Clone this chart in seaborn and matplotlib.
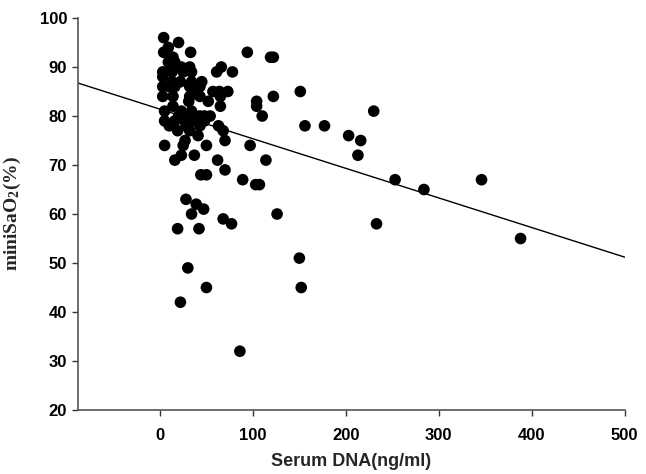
import seaborn as sns
import pandas as pd
import matplotlib.pyplot as plt
import numpy as np

# values
dna = [4, 20, 9, 4, 33, 14, 9, 16, 23, 13, 32, 3, 13, 25, 34, 3, 13, 22, 34, 45,
       3, 10, 16, 32, 43, 39,
       66, 61, 78, 57, 64, 73,
       3, 14, 32, 43, 31, 52, 5, 14, 23, 34, 43, 48, 65, 65,
       5, 16, 27, 35, 19, 32, 43, 48, 54, 63, 68, 70, 41, 25, 10, 28, 38, 20,
       5, 27, 25, 50, 97, 16, 23, 37, 62, 70, 44, 50, 114,
       89, 103, 107, 28, 39, 47, 34, 68, 77, 19, 42, 126, 233,
       30, 50, 22, 86, 150, 152,
       94, 119, 122, 151, 122, 104, 104, 110, 230, 156, 177, 203, 216, 213, 253, 284, 346, 388]
sao2 = [96, 95, 94, 93, 93, 92, 91, 91, 90, 90, 90, 89, 89, 89, 89, 88, 87, 87, 87, 87,
        86, 86, 86, 86, 86, 85,
        90, 89, 89, 85, 85, 85,
        84, 84, 84, 84, 83, 83, 81, 82, 81, 81, 80, 80, 84, 82,
        79, 79, 79, 79, 77, 77, 78, 79, 80, 78, 77, 75, 76, 80, 78, 78, 80, 80,
        74, 75, 74, 74, 74, 71, 72, 72, 71, 69, 68, 68, 71,
        67, 66, 66, 63, 62, 61, 60, 59, 58, 57, 57, 60, 58,
        49, 45, 42, 32, 51, 45,
        93, 92, 92, 85, 84, 83, 82, 80, 81, 78, 78, 76, 75, 72, 67, 65, 67, 55]

# fitted line
intercept = 81.4
slope = -0.0604

xlim = (-88, 500)
xticks = [0, 100, 200, 300, 400, 500]
yticks = [20, 30, 40, 50, 60, 70, 80, 90, 100]

df = pd.DataFrame({"dna": dna, "sao2": sao2})
fit = pd.DataFrame({"dna": list(xlim)})
fit["sao2"] = intercept + slope * fit["dna"]

sns.set_style("ticks")
plt.rcParams["font.family"] = "Liberation Sans"
plt.rcParams["font.weight"] = "bold"
plt.rcParams["mathtext.fontset"] = "custom"
plt.rcParams["mathtext.rm"] = "Liberation Serif:bold"
plt.rcParams["mathtext.it"] = "Liberation Serif:bold"
plt.rcParams["mathtext.default"] = "rm"

fig = plt.figure(figsize=(6.46, 4.74), dpi=100)
ax = fig.add_axes([0.121, 0.135, 0.846, 0.827])

sns.lineplot(x="dna", y="sao2", data=fit, color="black", lw=1.0, ax=ax)
sns.scatterplot(x="dna", y="sao2", data=df, color="black", s=70, edgecolor="none", ax=ax, zorder=3)

ax.set_xlim(*xlim)
ax.set_ylim(20, 100)
ax.set_xticks(xticks)
ax.set_xticklabels([str(t) for t in xticks], family="Liberation Sans", fontweight="bold", fontsize=12)
ax.set_yticks(yticks)
ax.set_yticklabels([str(t) for t in yticks], family="Liberation Sans", fontweight="bold", fontsize=12)
ax.tick_params(direction="out", length=4, width=1, colors="#333333", labelcolor="black")
ax.tick_params(axis="x", pad=9)
ax.tick_params(axis="y", pad=4)
for s in ["left", "bottom"]:
    ax.spines[s].set_color("#555555")
    ax.spines[s].set_linewidth(1.2)
sns.despine(ax=ax)

ax.set_xlabel("Serum DNA(ng/ml)", family="Liberation Sans", fontweight="bold", fontsize=13, labelpad=7)
ax.set_ylabel("miniSaO$_2$(%)", family="Liberation Serif", fontweight="bold", fontsize=14, labelpad=12)

fig.savefig("out.png", dpi=100)
